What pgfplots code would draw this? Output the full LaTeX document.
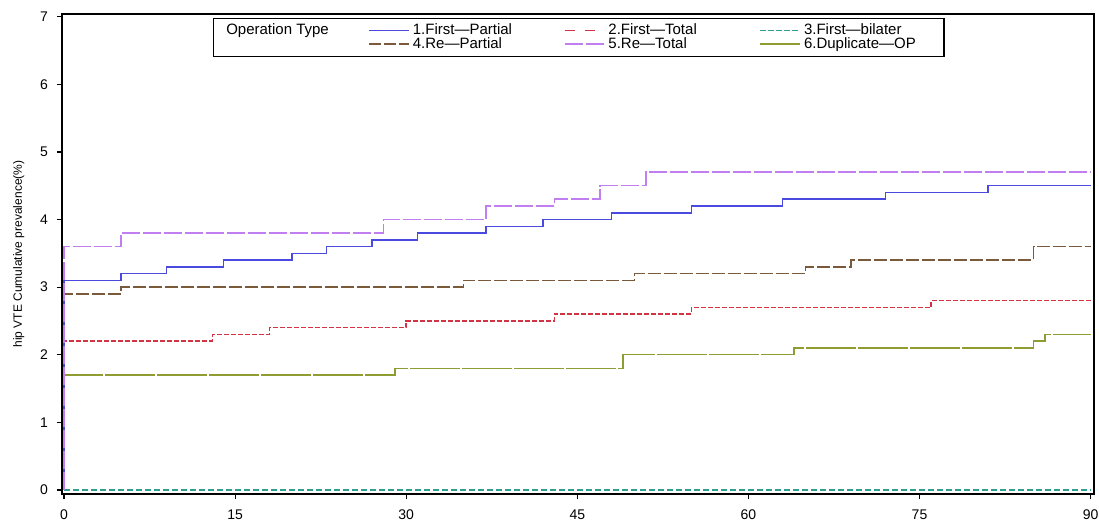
\documentclass[border=0pt]{standalone}
\usepackage{pgfplots}
\pgfplotsset{compat=1.18}
\usepackage{fontspec}
\setmainfont{Liberation Sans}

\definecolor{cBlue}{HTML}{4A4AE0}
\definecolor{cRed}{HTML}{D23444}
\definecolor{cTeal}{HTML}{2E9E8E}
\definecolor{cBrown}{HTML}{7A5A3A}
\definecolor{cPurple}{HTML}{C07EF0}
\definecolor{cOlive}{HTML}{8E9C32}

\begin{document}
\begin{tikzpicture}
\begin{axis}[
  scale only axis,
  width=516pt, height=240pt,
  xmin=-0.18, xmax=90.3,
  ymin=-0.06, ymax=7.04,
  xtick={0,15,...,90},
  ytick={0,1,...,7},
  xtick pos=bottom, ytick pos=left,
  tick align=outside,
  major tick length=2.5pt,
  tick style={black, line width=0.6pt},
  axis line style={black, line width=0.75pt},
  /pgf/number format/assume math mode=true,
  ticklabel style={font=\fontsize{7}{8}\selectfont},
  yticklabel style={xshift=-1pt},
  xticklabel style={yshift=-2pt},
  ylabel={hip VTE Cumulative prevalence(\%)},
  ylabel style={font=\fontsize{6}{7}\selectfont, yshift=1pt},
  legend columns=4,
  legend cell align=left,
  legend style={
    at={(0.146,0.992)}, anchor=north west,
    draw=black, line width=0.6pt,
    font=\fontsize{7.5}{8}\selectfont,
    inner sep=1pt,
    row sep=-3pt,
    nodes={inner sep=1.5pt},
  },
  legend image code/.code={\draw[line width=0.8pt, #1] (0pt,0pt) -- (20pt,0pt);},
  every axis plot/.append style={line width=0.75pt, const plot},
]
% legend entries: heading, then two rows of three types
\addlegendimage{empty legend}
\addlegendentry{\hspace{4pt}\makebox[69.5pt][l]{Operation Type}}
\addlegendimage{draw=cBlue}
\addlegendentry{\makebox[74pt][l]{1.First---Partial}}
\addlegendimage{draw=cRed, dash pattern=on 5pt off 5pt}
\addlegendentry{\makebox[74pt][l]{2.First---Total}}
\addlegendimage{draw=cTeal, dash pattern=on 3pt off 1pt}
\addlegendentry{\makebox[67.5pt][l]{3.First---bilater}}
\addlegendimage{empty legend}
\addlegendentry{}
\addlegendimage{draw=cBrown, dash pattern=on 6pt off 1.5pt}
\addlegendentry{4.Re---Partial}
\addlegendimage{draw=cPurple, dash pattern=on 9pt off 1.5pt}
\addlegendentry{5.Re---Total}
\addlegendimage{draw=cOlive}
\addlegendentry{6.Duplicate---OP}

% 3.First-bilater
\addplot[forget plot, cTeal, dash pattern=on 3pt off 1.5pt] coordinates {
  (0,0) (90,0)
};
% 6.Duplicate-OP
\addplot[forget plot, cOlive, dash pattern=on 25pt off 1pt] coordinates {
  (0,0) (0,1.7) (29,1.8) (49,2.0) (64,2.1) (85,2.2) (86,2.3) (90,2.3)
};
% 2.First-Total
\addplot[forget plot, cRed, dash pattern=on 2.5pt off 1pt] coordinates {
  (0,0) (0,2.2) (13,2.3) (18,2.4) (30,2.5) (43,2.6) (55,2.7) (76,2.8) (90,2.8)
};
% 4.Re-Partial
\addplot[forget plot, cBrown, dash pattern=on 6.5pt off 1.5pt] coordinates {
  (0,0) (0,2.9) (5,3.0) (35,3.1) (50,3.2) (65,3.3) (69,3.4) (85,3.6) (90,3.6)
};
% 1.First-Partial
\addplot[forget plot, cBlue] coordinates {
  (0,0) (0,3.1) (5,3.2) (9,3.3) (14,3.4) (20,3.5) (23,3.6) (27,3.7) (31,3.8)
  (37,3.9) (42,4.0) (48,4.1) (55,4.2) (63,4.3) (72,4.4) (81,4.5) (90,4.5)
};
% 5.Re-Total
\addplot[forget plot, cPurple, dash pattern=on 9pt off 1.5pt] coordinates {
  (0,0) (0,3.6) (5,3.8) (28,4.0) (37,4.2) (43,4.3) (47,4.5) (51,4.7) (90,4.7)
};
\end{axis}
\pgfresetboundingbox
\useasboundingbox (-31pt,-13.5pt) rectangle (518.5pt,247pt);
\end{tikzpicture}
\end{document}
